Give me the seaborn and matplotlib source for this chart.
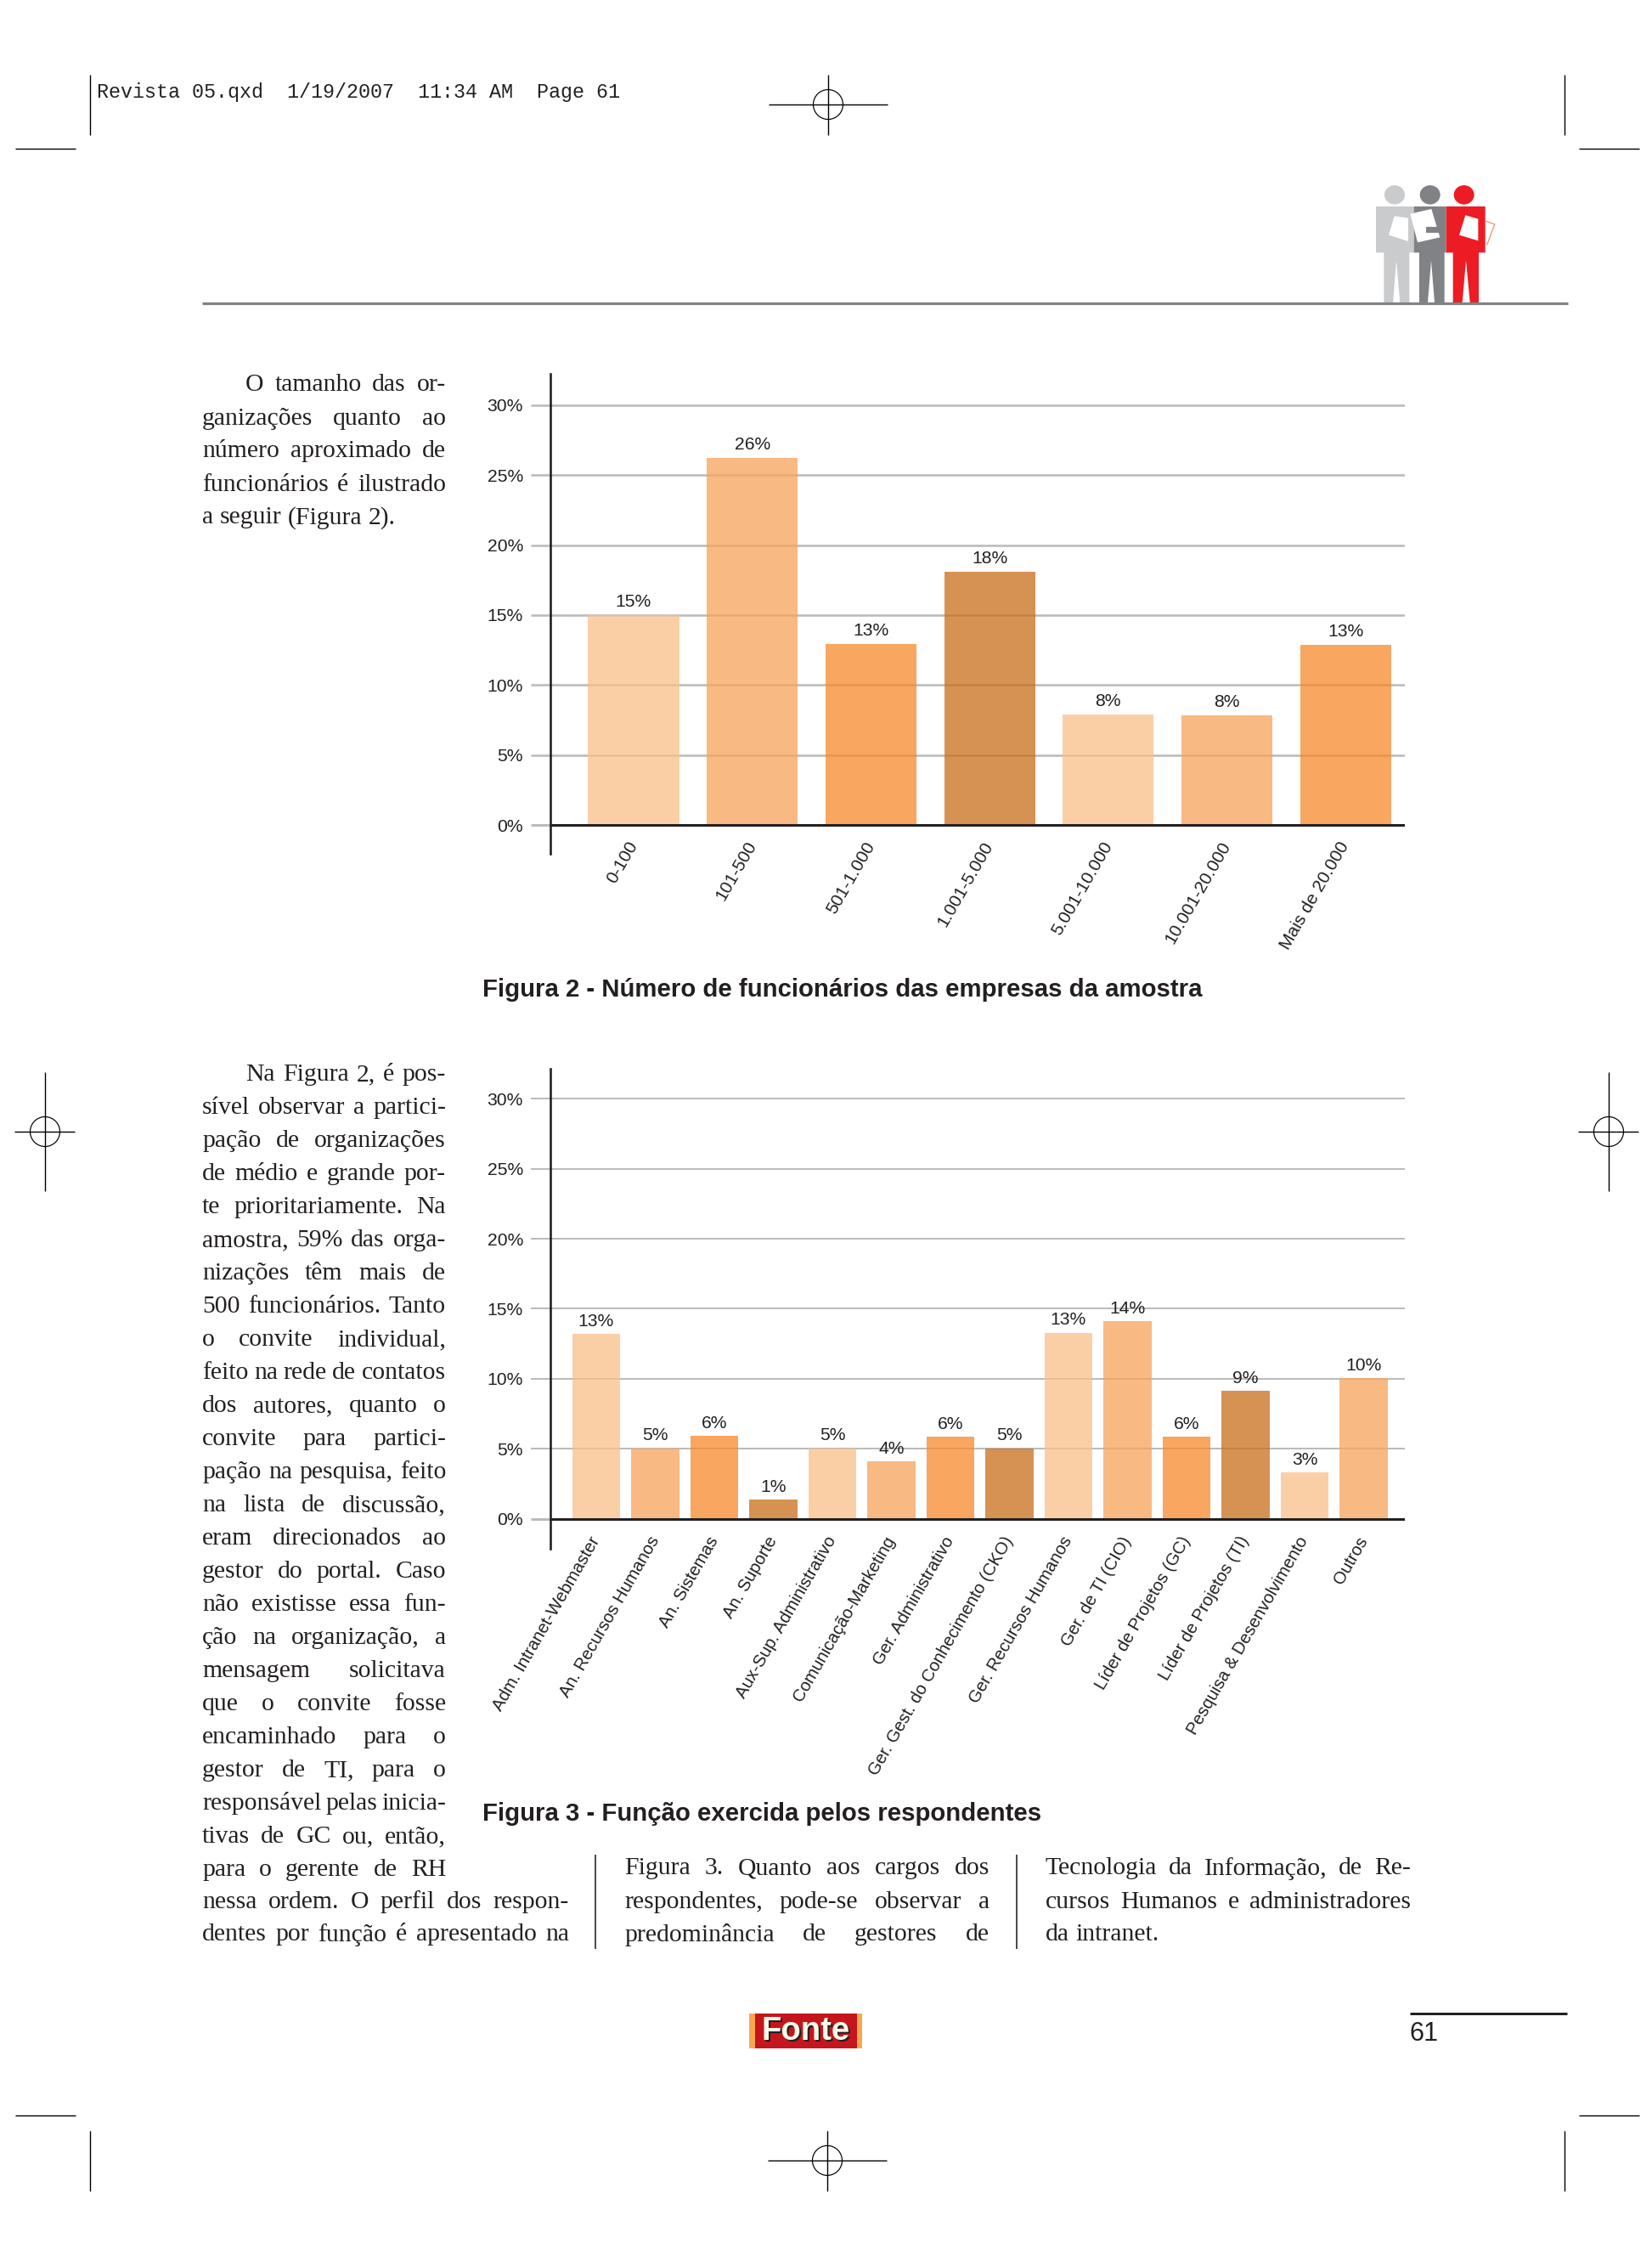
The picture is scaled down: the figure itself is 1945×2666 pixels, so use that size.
import matplotlib
matplotlib.use("Agg")
import matplotlib.pyplot as plt
from matplotlib.patches import Ellipse, Polygon, Rectangle
import seaborn as sns

# ---------- data ----------
cats_fig2 = ["0-100", "101-500", "501-1.000", "1.001-5.000", "5.001-10.000", "10.001-20.000", "Mais de 20.000"]
vals_fig2 = [15.0, 26.25, 12.96, 18.1, 7.9, 7.85, 12.9]
cats_fig3 = ["Adm. Intranet-Webmaster", "An. Recursos Humanos", "An. Sistemas", "An. Suporte",
             "Aux-Sup. Administrativo", "Comunicação-Marketing", "Ger. Administrativo",
             "Ger. Gest. do Conhecimento (CKO)", "Ger. Recursos Humanos", "Ger. de TI (CIO)",
             "Líder de Projetos (GC)", "Líder de Projetos (TI)", "Pesquisa & Desenvolvimento", "Outros"]
vals_fig3 = [13.2, 5.03, 5.89, 1.35, 5.03, 4.07, 5.85, 5.03, 13.27, 14.09, 5.85, 9.13, 3.28, 10.02]
y_ticks = [0, 5, 10, 15, 20, 25, 30]
y_labels = ["0%", "5%", "10%", "15%", "20%", "25%", "30%"]

caption_fig2 = "Figura 2 - Número de funcionários das empresas da amostra"
caption_fig3 = "Figura 3 - Função exercida pelos respondentes"
slug = "Revista 05.qxd  1/19/2007  11:34 AM  Page 61"

text_top = ["O tamanho das or-", "ganizações quanto ao", "número aproximado de",
            "funcionários é ilustrado", "a seguir (Figura 2)."]
text_mid = ["Na Figura 2, é pos-", "sível observar a partici-", "pação de organizações",
            "de médio e grande por-", "te prioritariamente. Na", "amostra, 59% das orga-",
            "nizações têm mais de", "500 funcionários. Tanto", "o convite individual,",
            "feito na rede de contatos", "dos autores, quanto o", "convite para partici-",
            "pação na pesquisa, feito", "na lista de discussão,", "eram direcionados ao",
            "gestor do portal. Caso", "não existisse essa fun-", "ção na organização, a",
            "mensagem solicitava", "que o convite fosse", "encaminhado para o",
            "gestor de TI, para o", "responsável pelas inicia-", "tivas de GC ou, então,",
            "para o gerente de RH"]
text_col1 = ["nessa ordem. O perfil dos respon-", "dentes por função é apresentado na"]
text_col2 = ["Figura 3. Quanto aos cargos dos", "respondentes, pode-se observar a",
             "predominância de gestores de"]
text_col3 = ["Tecnologia da Informação, de Re-", "cursos Humanos e administradores", "da intranet."]

# ---------- style ----------
sns.set_theme(style="white")
plt.rcParams["font.family"] = ["Liberation Sans", "DejaVu Sans"]
W, H = 1945, 2666
DPI = 100
PT = 72 / DPI
DARK = "#231F20"
GRID = "#BBBBBB"
BAR_ALPHA = 0.76


def under_alpha(hex_col):
    """Colour that shows as hex_col on white once drawn with BAR_ALPHA (the grid shows through)."""
    rgb = matplotlib.colors.to_rgb(hex_col)
    return tuple(max(0, (c - (1 - BAR_ALPHA)) / BAR_ALPHA) for c in rgb)


cycle = ["#FCCFA6", "#FABA82", "#F9A660", "#D69252"]

fig = plt.figure(figsize=(W / DPI, H / DPI), dpi=DPI, facecolor="white")

# page overlay in pixel coordinates
pg = fig.add_axes([0, 0, 1, 1], zorder=0)
pg.set_xlim(0, W)
pg.set_ylim(H, 0)
pg.axis("off")


def chart(cats, vals, top, bottom, x_first, pitch, width, grid_w, x_fs, below_px):
    left, right = 648, 1654
    ax = fig.add_axes([left / W, 1 - bottom / H, (right - left) / W, (bottom - top) / H],
                      facecolor="none", zorder=2)
    pal = {c: under_alpha(cycle[i % 4]) for i, c in enumerate(cats)}
    sns.barplot(x=cats, y=vals, hue=cats, palette=pal, legend=False, dodge=False,
                width=width, saturation=1, alpha=BAR_ALPHA, ax=ax, linewidth=0)
    ppu = 16.47
    ax.set_ylim(-below_px / ppu, (bottom - top - below_px) / ppu)
    ax.set_xlim((left - x_first) / pitch, (right - x_first) / pitch)
    ax.set_yticks(y_ticks)
    ax.set_yticklabels(y_labels)
    ax.set_axisbelow(True)
    ax.yaxis.grid(True, color=GRID, lw=grid_w * PT)
    ax.xaxis.grid(False)
    ax.tick_params(axis="y", length=23 * PT, width=grid_w * PT, color=GRID, pad=9 * PT,
                   labelsize=15.2, labelcolor=DARK, left=True)
    ax.tick_params(axis="x", length=0, pad=-13 * PT, labelsize=x_fs, labelcolor=DARK)
    for lab in ax.get_xticklabels():
        lab.set_rotation(60)
        lab.set_ha("right")
        lab.set_va("center")
        lab.set_rotation_mode("anchor")
    t0 = ax.yaxis.get_major_ticks()[0]
    t0.tick1line.set_color(DARK)
    t0.tick1line.set_markeredgewidth(3 * PT)
    for s in ["top", "right", "bottom"]:
        ax.spines[s].set_visible(False)
    ax.spines["left"].set_color(DARK)
    ax.spines["left"].set_linewidth(2.6 * PT)
    ax.axhline(0, color=DARK, lw=3 * PT, zorder=5)
    for cont in ax.containers:
        vs = [b.get_height() for b in cont]
        ax.bar_label(cont, labels=[f"{round(v)}%" for v in vs], padding=5.5 * PT,
                     fontsize=15.2, color=DARK)
    return ax


chart(cats_fig2, vals_fig2, 440, 1005, 746, 139.7, 0.766, 2.6, 15, 34)
chart(cats_fig3, vals_fig3, 1258, 1823, 702, 69.5, 0.81, 2.0, 14.7, 35.5)


# ---------- page furniture ----------
def line(x0, y0, x1, y1, lw=1.4, color="black"):
    pg.plot([x0, x1], [y0, y1], color=color, lw=lw * PT, solid_capstyle="butt")


def cross(cx, cy, half_h, half_w):
    line(cx, cy - half_h, cx, cy + half_h)
    line(cx - half_w, cy, cx + half_w, cy)
    pg.add_patch(Ellipse((cx, cy), 35, 35, fill=False, ec="black", lw=1.2 * PT))


for cx, cy in [(975, 123), (974, 2543)]:
    cross(cx, cy, 35.5, 70)
for cx, cy in [(53, 1332), (1894, 1332)]:
    cross(cx, cy, 70, 35.5)
for x in (106, 1842):
    line(x, 88, x, 159)
    line(x, 2508, x, 2579)
for y in (175, 2490):
    line(18, y, 89, y)
    line(1859, y, 1930, y)

pg.text(114, 108.5, slug, family="Liberation Mono", fontsize=16.8, color="#222222", va="center", ha="left")
line(238, 357, 1846, 357, lw=3.2, color="#808285")
line(1660, 2370, 1845, 2370, lw=3, color=DARK)
pg.text(1660, 2394.5, "61", fontsize=22, color=DARK, va="center", ha="left")
line(701, 2183, 701, 2294, lw=1.6, color=DARK)
line(1197, 2183, 1197, 2294, lw=1.6, color=DARK)

# captions
pg.text(568, 1165, caption_fig2, fontsize=21.17, fontweight="bold", color=DARK, va="center", ha="left")
pg.text(568, 2135, caption_fig3, fontsize=21.17, fontweight="bold", color=DARK, va="center", ha="left")

# justified body text
renderer = fig.canvas.get_renderer()
BODY = dict(family="Liberation Serif", fontsize=21.4, color=DARK, va="center", ha="left")


def word_width(w):
    t = pg.text(0, 0, w, **BODY)
    ext = t.get_window_extent(renderer).width
    t.remove()
    return ext


def set_line(s, x0, x1, y, justify=True):
    words = s.split(" ")
    widths = [word_width(w) for w in words]
    if justify and len(words) > 1:
        gap = (x1 - x0 - sum(widths)) / (len(words) - 1)
    else:
        gap = word_width("n") * 0.5
    x = x0
    for w, wd in zip(words, widths):
        pg.text(x, y, w, **BODY)
        x += wd + gap


def block(lines, x0, x1, y0, last_free=True, indent=0):
    for i, s in enumerate(lines):
        free = last_free and i == len(lines) - 1
        set_line(s, x0 + (indent if i == 0 else 0), x1, y0 + i * 39.0, justify=not free)


block(text_top, 238, 525, 453.5, last_free=True, indent=51)
block(text_mid, 238, 525, 1265, last_free=False, indent=51)
block(text_col1, 238, 670, 2238.5, last_free=False)
block(text_col2, 735, 1165, 2199.5, last_free=False)
block(text_col3, 1231, 1661, 2199.5, last_free=True)

# Fonte logo
pg.add_patch(Rectangle((882, 2370), 133, 41, fc="#F9A650", ec="none"))
pg.add_patch(Rectangle((889, 2370), 120, 41, fc="#C4161C", ec="none"))
pg.text(951, 2393, "Fonte", fontsize=27.5, fontweight="bold", color="#231F20", ha="center", va="center")
pg.text(949, 2391, "Fonte", fontsize=27.5, fontweight="bold", color="#FFFBEA", ha="center", va="center")


# people icon (coordinates taken from a 3x crop with origin 1500, 60)
def ic(p):
    return [(1500 + x / 3, 60 + y / 3) for x, y in p]


def person(cx, cy, bx0, bx1, lx0, lx1, gx, g0, g1, col):
    pg.add_patch(Ellipse((1500 + cx / 3, 60 + cy / 3), 24, 22.5, fc=col, ec="none"))
    pg.add_patch(Polygon(ic([(bx0, 549), (bx1, 549), (bx1, 712), (lx1, 712), (lx1, 888), (g1, 888),
                             (gx, 740), (g0, 888), (lx0, 888), (lx0, 712), (bx0, 712)]),
                         closed=True, fc=col, ec="none"))


person(426, 508, 360, 494, 388, 478, 432, 420, 445, "#C9CBCC")
person(551, 508, 494, 608, 513, 602, 555, 543, 567, "#808285")
person(671, 508, 608, 746, 632, 723, 678, 665, 692, "#ED1C24")
for quad in ([(425, 583), (474, 590), (474, 672), (405, 650)],
             [(481, 575), (556, 558), (586, 658), (507, 676)],
             [(676, 580), (721, 593), (721, 670), (654, 650)]):
    pg.add_patch(Polygon(ic(quad), closed=True, fc="white", ec="none"))
pg.add_patch(Polygon(ic([(538, 622), (600, 622), (600, 642), (538, 642)]), closed=True, fc="#808285", ec="none"))
pg.plot(*zip(*ic([(746, 600), (779, 612), (752, 685)])), color="#F08A70", lw=1.2 * PT)

fig.savefig("out.png", dpi=DPI, facecolor="white")
